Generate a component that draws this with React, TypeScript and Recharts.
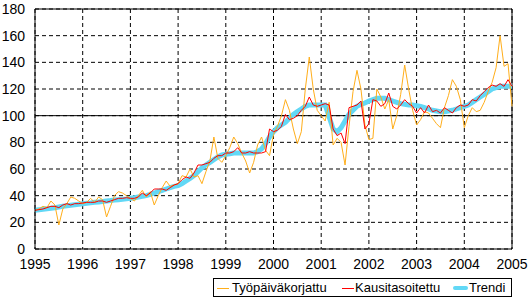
import React from "react";
import {
  LineChart,
  Line,
  XAxis,
  YAxis,
  CartesianGrid,
  ReferenceLine,
  Legend,
} from "recharts";

// monthly values, Jan 1995 .. Jan 2005
const yearLabels = [1995, 1996, 1997, 1998, 1999, 2000, 2001, 2002, 2003, 2004, 2005];
const yTicks = [0, 20, 40, 60, 80, 100, 120, 140, 160, 180];

const tyopaivakorjattu = [
  29, 30, 32, 31, 36, 33, 18, 30, 34, 39, 38, 36,
  34, 35, 38, 35, 39, 37, 24, 32, 40, 43, 42, 40,
  38, 36, 40, 44, 39, 43, 33, 40, 46, 51, 47, 48,
  49, 55, 54, 60, 54, 55, 49, 58, 66, 84, 68, 65,
  70, 76, 84, 79, 72, 66, 57, 65, 78, 84, 74, 70,
  86, 92, 100, 112, 104, 90, 79, 88, 120, 144, 120, 104,
  100, 96, 110, 78, 83, 80, 63, 92, 118, 134, 120, 93,
  82, 83, 120, 114, 105, 112, 90, 100, 116, 138, 120, 104,
  93, 97, 103, 102, 98, 94, 91, 106, 115, 127, 122, 112,
  91, 100, 106, 103, 104, 110, 118, 125, 136, 160, 137, 139,
  107,
];

const kausitasoitettu = [
  29, 29.5, 30, 31, 32, 32, 31, 33, 34, 33, 34, 34,
  34.5, 35, 35, 35, 36, 36, 35, 36, 37, 38, 38, 38.5,
  38, 38, 39, 42, 40, 42, 45, 45, 45, 44, 46, 48,
  49, 52, 54, 53, 57, 63, 63, 64, 65, 68, 70, 70,
  72, 72, 73, 76, 72, 72, 73, 72, 72, 72, 73, 90,
  88, 89, 92, 101, 97, 98, 100, 104, 107, 114, 108, 107,
  108, 109, 108, 90, 85, 87, 79, 106, 107, 108, 111, 90,
  94, 112, 111, 107, 109, 117, 107, 105, 108, 112, 109, 107,
  102, 106, 102, 108, 103, 104, 102, 106, 104, 102, 106, 108,
  107, 108, 112, 111, 115, 118, 121, 123, 122, 124, 122, 127,
  122,
];

const trendi = [
  29, 29.4, 29.8, 30.2, 30.6, 31, 31.5, 32, 32.4, 32.8, 33.2, 33.6,
  34, 34.3, 34.6, 35, 35.3, 35.6, 36, 36.3, 36.7, 37, 37.3, 37.6,
  38, 38.5, 39, 39.5, 40, 41, 42, 43, 44, 45, 46, 47,
  47.5, 49, 51, 53, 55, 58, 61, 63, 65, 67, 69, 70.5,
  71, 71.5, 72, 72, 72, 72, 72, 72, 73, 75, 79, 84,
  88, 91, 93, 95, 98, 101, 103, 105, 107, 108, 108, 108,
  108, 108, 99, 90, 88, 91, 96, 101, 104, 107, 108.5, 109.5,
  111, 112, 113, 113, 113, 112, 111, 110, 109, 108.5, 108, 108,
  107.5, 107, 106, 105, 104, 103.5, 103, 103, 103.5, 104, 105, 106,
  107, 108, 110, 112, 114, 116, 118, 120, 121, 122, 122, 122,
  122,
];

const data = trendi.map((_, i) => ({
  t: i,
  tp: tyopaivakorjattu[i],
  ks: kausitasoitettu[i],
  tr: trendi[i],
}));

const ORANGE = "#FFAE1A";
const RED = "#FF0000";
const CYAN = "#62D8F6";
const FONT = "'Liberation Sans', Arial, sans-serif";

function LegendBox() {
  const txt: React.CSSProperties = {
    position: "absolute",
    top: 1,
    fontSize: 13,
    lineHeight: "15px",
    color: "#000",
    whiteSpace: "nowrap",
  };
  const line = (left: number, width: number, color: string, h: number) => (
    <span
      style={{
        position: "absolute",
        left,
        top: 9 - h / 2,
        width,
        height: h,
        background: color,
        borderRadius: h > 1 ? h / 2 : 0,
      }}
    />
  );
  return (
    <div
      style={{
        position: "relative",
        width: 299,
        height: 19,
        border: "1px solid #000",
        boxSizing: "border-box",
        background: "#fff",
        fontFamily: FONT,
      }}
    >
      {line(3, 12, ORANGE, 1)}
      <span style={{ ...txt, left: 18 }}>Työpäiväkorjattu</span>
      {line(128, 12, RED, 1)}
      <span style={{ ...txt, left: 141 }}>Kausitasoitettu</span>
      {line(239, 15, CYAN, 4)}
      <span style={{ ...txt, left: 255 }}>Trendi</span>
    </div>
  );
}

export default function App() {
  return (
    <div style={{ position: "absolute", left: 0, top: 0, width: 528, height: 298, background: "#fff" }}>
      <LineChart
        width={528}
        height={298}
        data={data}
        margin={{ top: 9, right: 16, bottom: 19, left: 0 }}
        style={{ fontFamily: FONT }}
      >
        <CartesianGrid stroke="#000" strokeDasharray="4 3" strokeWidth={1} />
        <XAxis
          dataKey="t"
          type="number"
          domain={[0, 120]}
          ticks={yearLabels.map((_, i) => i * 12)}
          tickFormatter={(v: number) => String(yearLabels[v / 12])}
          interval={0}
          height={30}
          tickLine={false}
          tickSize={0}
          tickMargin={10}
          axisLine={{ stroke: "#000" }}
          tick={{ fill: "#000", fontSize: 14 }}
        />
        <YAxis
          domain={[0, 180]}
          ticks={yTicks}
          interval={0}
          width={35}
          tickLine={false}
          tickSize={0}
          tickMargin={10}
          axisLine={{ stroke: "#000" }}
          tick={{ fill: "#000", fontSize: 14 }}
        />
        <ReferenceLine y={180} stroke="#000" />
        <ReferenceLine x={120} stroke="#000" />
        <ReferenceLine y={100} stroke="#000" />
        <Line
          dataKey="tr"
          name="Trendi"
          stroke={CYAN}
          strokeWidth={5}
          dot={false}
          type="linear"
          isAnimationActive={false}
        />
        <Line
          dataKey="tp"
          name="Työpäiväkorjattu"
          stroke={ORANGE}
          strokeWidth={1}
          dot={false}
          type="linear"
          isAnimationActive={false}
        />
        <Line
          dataKey="ks"
          name="Kausitasoitettu"
          stroke={RED}
          strokeWidth={1}
          dot={false}
          type="linear"
          isAnimationActive={false}
        />
        <Legend
          layout="horizontal"
          verticalAlign="middle"
          align="center"
          width={299}
          wrapperStyle={{ left: 213, top: 278, width: 299, height: 19 }}
          content={() => <LegendBox />}
        />
      </LineChart>
    </div>
  );
}
